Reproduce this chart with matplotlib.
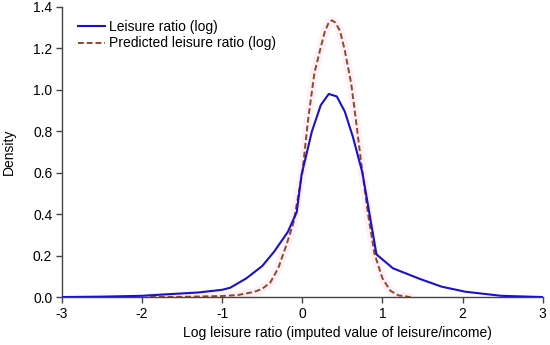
import numpy as np
import matplotlib
matplotlib.use('Agg')
import matplotlib.pyplot as plt

plt.rcParams['font.family'] = ['Liberation Sans', 'DejaVu Sans']

# observed leisure ratio density (log)
obs_x = [-3.0, -2.5, -2.0, -1.7, -1.3, -1.0, -0.9, -0.7, -0.5, -0.35, -0.18, -0.07,
         -0.01, 0.12, 0.23, 0.33, 0.43, 0.53, 0.63, 0.75, 0.925, 1.13, 1.47, 1.74,
         2.03, 2.48, 3.0]
obs_y = [0.0, 0.002, 0.006, 0.013, 0.022, 0.035, 0.045, 0.09, 0.15, 0.22, 0.315, 0.41,
         0.59, 0.80, 0.926, 0.98, 0.968, 0.895, 0.774, 0.60, 0.206, 0.139, 0.087, 0.05,
         0.026, 0.006, 0.0]

# predicted leisure ratio density (log)
pred_x = [-1.9, -1.5, -1.0, -0.8, -0.6, -0.5, -0.4, -0.3, -0.2, -0.11, 0.0, 0.07,
          0.15, 0.22, 0.28, 0.33, 0.37, 0.41, 0.47, 0.53, 0.61, 0.68, 0.75, 0.82,
          0.9, 1.0, 1.1, 1.2, 1.35]
pred_y = [0.0, 0.001, 0.005, 0.01, 0.025, 0.04, 0.07, 0.14, 0.25, 0.36, 0.60, 0.85,
          1.08, 1.19, 1.28, 1.325, 1.335, 1.325, 1.285, 1.19, 1.03, 0.82, 0.60, 0.40,
          0.21, 0.09, 0.03, 0.008, 0.0]

x_ticks = [-3, -2, -1, 0, 1, 2, 3]
y_ticks = [0.0, 0.2, 0.4, 0.6, 0.8, 1.0, 1.2, 1.4]

fig = plt.figure(figsize=(5.5, 3.45), dpi=100)
ax = fig.add_axes([0.1127, 0.139, 0.874, 0.841])

# very faint pink halo under the predicted curve, like the original
ax.plot(pred_x, pred_y, color='#fdf0f8', lw=6, solid_capstyle='round', zorder=1)
ax.plot(obs_x, obs_y, color='#1a10d0', lw=1.5, label='Leisure ratio (log)', zorder=3)
ax.plot(pred_x, pred_y, color='#8c4a1e', lw=1.4, ls=(0, (3, 1.5)),
        label='Predicted leisure ratio (log)', zorder=2)

ax.set_xlim(-3, 3)
ax.set_ylim(0, 1.4)
ax.set_xticks(x_ticks)
ax.set_xticklabels([str(t) for t in x_ticks])
ax.set_yticks(y_ticks)
ax.set_yticklabels(['%.1f' % t for t in y_ticks])

for s in ['top', 'right']:
  ax.spines[s].set_visible(False)
for s in ['left', 'bottom']:
  ax.spines[s].set_color('#444444')
  ax.spines[s].set_linewidth(1.0)
ax.tick_params(direction='out', length=4, width=1, color='#444444',
               labelsize=10, pad=3)

ax.set_xlabel('Log leisure ratio (imputed value of leisure/income)', fontsize=10)
ax.xaxis.set_label_coords(0.574, -0.1)
ax.set_ylabel('Density', fontsize=10, labelpad=12)

leg = ax.legend(loc='upper left', bbox_to_anchor=(0.015, 0.985), frameon=False,
                fontsize=10, handlelength=1.95, handletextpad=0.35,
                borderaxespad=0.2, labelspacing=0.2)

fig.savefig('out.png', dpi=100)
